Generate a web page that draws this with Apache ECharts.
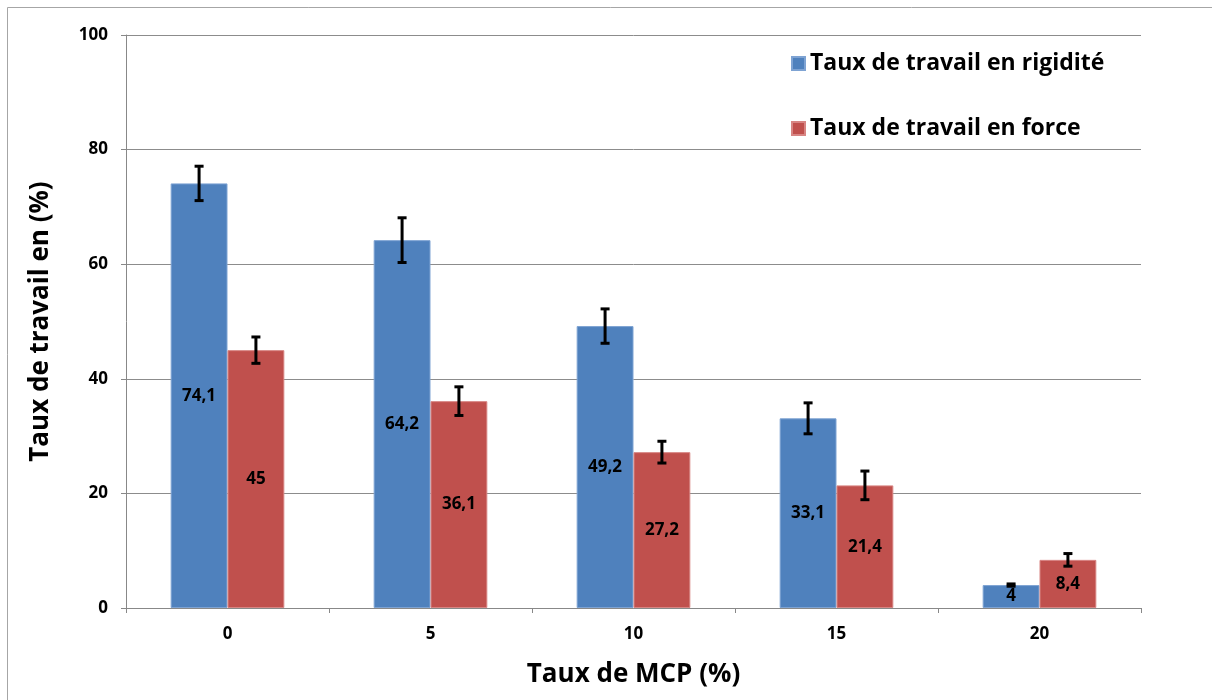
<!DOCTYPE html>
<html>
<head>
<meta charset="utf-8">
<script src="https://cdn.jsdelivr.net/npm/echarts@6/dist/echarts.min.js"></script>
<style>html,body{margin:0;padding:0;background:#fff;}#c{width:1212px;height:700px;}</style>
</head>
<body>
<div id="c"></div>
<script>
var categories = ['0', '5', '10', '15', '20'];
var rigidite = [74.1, 64.2, 49.2, 33.1, 4];
var force = [45, 36.1, 27.2, 21.4, 8.4];
var rigiditeErr = [3.0, 3.9, 3.0, 2.7, 0.2];
var forceErr = [2.3, 2.5, 1.9, 2.5, 1.1];
var yTicks = [0, 20, 40, 60, 80, 100];
var seriesNames = ['Taux de travail en rigidité', 'Taux de travail en force'];

var FONT = '"Open Sans"';
var BAR_FRAC = 0.28;

function errSeries(vals, errs, side) {
  var data = vals.map(function (v, i) { return [i, v, errs[i]]; });
  return {
    type: 'custom',
    silent: true,
    z: 10,
    data: data,
    renderItem: function (params, api) {
      var i = api.value(0), v = api.value(1), e = api.value(2);
      var band = api.size([1, 0])[0];
      var bw = band * BAR_FRAC;
      var c = api.coord([i, v]);
      var x = c[0] + side * bw / 2;
      var top = api.coord([i, v + e])[1];
      var bot = api.coord([i, v - e])[1];
      var cap = 4.5;
      var st = { stroke: '#000', lineWidth: 3 };
      return {
        type: 'group',
        children: [
          { type: 'line', shape: { x1: x, y1: top, x2: x, y2: bot }, style: st },
          { type: 'line', shape: { x1: x - cap, y1: top, x2: x + cap, y2: top }, style: st },
          { type: 'line', shape: { x1: x - cap, y1: bot, x2: x + cap, y2: bot }, style: st }
        ]
      };
    }
  };
}

var labelCfg = {
  show: true,
  position: 'inside',
  color: '#000',
  fontFamily: FONT,
  fontWeight: 'bold',
  fontSize: 17,
  formatter: function (p) { return String(p.value).replace('.', ','); }
};

var chart = echarts.init(document.getElementById('c'));
chart.setOption({
  animation: false,
  textStyle: { fontFamily: FONT },
  graphic: [{
    type: 'rect',
    shape: { x: 7.5, y: 7.5, width: 1400, height: 900 },
    style: { fill: 'none', stroke: '#a6a6a6', lineWidth: 1 },
    silent: true
  }],
  grid: { left: 126, right: 71, top: 35, bottom: 92 },
  legend: {
    orient: 'vertical',
    left: 786,
    top: 47,
    itemWidth: 13,
    itemHeight: 13,
    itemGap: 42,
    icon: 'rect',
    textStyle: { fontFamily: FONT, fontWeight: 'bold', fontSize: 23, color: '#000' },
    data: seriesNames
  },
  xAxis: {
    type: 'category',
    data: categories,
    name: 'Taux de MCP (%)',
    nameLocation: 'middle',
    nameGap: 54,
    nameTextStyle: { fontFamily: FONT, fontWeight: 'bold', fontSize: 26, color: '#000' },
    axisLine: { lineStyle: { color: '#888', width: 1 } },
    axisTick: { show: true, length: 5, lineStyle: { color: '#888' } },
    axisLabel: { fontFamily: FONT, fontWeight: 'bold', fontSize: 17, color: '#000', margin: 18 }
  },
  yAxis: {
    type: 'value',
    min: 0, max: 100, interval: 20,
    name: 'Taux de travail en (%)',
    nameLocation: 'middle',
    nameGap: 72,
    nameRotate: 90,
    nameTextStyle: { fontFamily: FONT, fontWeight: 'bold', fontSize: 26, color: '#000' },
    axisLine: { show: true, lineStyle: { color: '#888', width: 1 } },
    axisTick: { show: true, length: 5, lineStyle: { color: '#888' } },
    axisLabel: { fontFamily: FONT, fontWeight: 'bold', fontSize: 17, color: '#000', margin: 18,
      formatter: function (v) { return yTicks.indexOf(v) >= 0 ? String(v) : ''; } },
    splitLine: { show: true, lineStyle: { color: '#8c8c8c', width: 1 } }
  },
  series: [
    {
      name: seriesNames[0], type: 'bar', data: rigidite,
      barWidth: (BAR_FRAC * 100) + '%', barGap: '0%',
      itemStyle: { color: '#4F81BD', borderColor: '#7ea3d3', borderWidth: 1 },
      label: labelCfg
    },
    {
      name: seriesNames[1], type: 'bar', data: force,
      barWidth: (BAR_FRAC * 100) + '%', barGap: '0%',
      itemStyle: { color: '#C0504D', borderColor: '#d88583', borderWidth: 1 },
      label: labelCfg
    },
    errSeries(rigidite, rigiditeErr, -1),
    errSeries(force, forceErr, 1)
  ]
});
</script>
</body>
</html>
